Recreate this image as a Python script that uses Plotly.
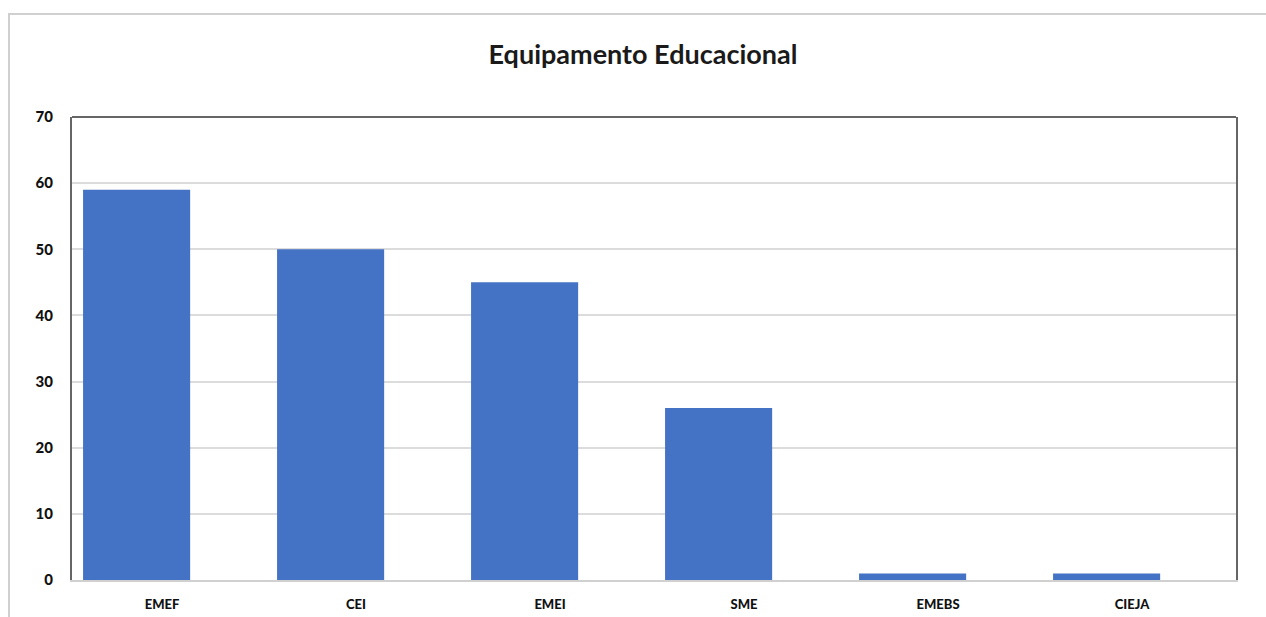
import plotly.graph_objects as go

categories = ["EMEF", "CEI", "EMEI", "SME", "EMEBS", "CIEJA"]
values = [59, 50, 45, 26, 1, 1]
y_ticks = [0, 10, 20, 30, 40, 50, 60, 70]

fig = go.Figure(go.Bar(x=categories, y=values, offset=-0.407, width=0.552,
                       marker=dict(color="#4472C4", line=dict(width=0))))

font_fam = "Lato, 'Open Sans', sans-serif"
fig.update_layout(
    width=1266, height=617,
    margin=dict(l=72, r=30, t=117, b=37, autoexpand=False),
    paper_bgcolor="white", plot_bgcolor="white",
    showlegend=False,
    title=dict(text="<b>Equipamento Educacional</b>", x=643 / 1266, xanchor="center",
               y=1 - 55 / 617, yanchor="middle",
               font=dict(family=font_fam, size=27, color="#1a1a1a")),
    xaxis=dict(showgrid=False, showline=True, linecolor="#d0d0d0", linewidth=2,
               range=[-0.464, 5.536], automargin=False,
               tickfont=dict(family=font_fam, size=13, color="#111", weight=900),
               ticks="", ticklabelstandoff=11),
    yaxis=dict(range=[0, 70], tickvals=y_ticks, showgrid=True, gridcolor="#dcdcdc", gridwidth=1.5,
               zeroline=False, showline=True, mirror=True, linecolor="#666666", linewidth=2,
               automargin=False,
               tickfont=dict(family=font_fam, size=15, color="#111", weight=900),
               ticks="", ticklabelstandoff=14),
    shapes=[
        dict(type="line", xref="paper", yref="paper", x0=0, x1=1, y0=1, y1=1,
             line=dict(color="#666666", width=2)),
        dict(type="rect", xref="paper", yref="paper",
             x0=(9 - 72) / 1164, x1=(1300 - 72) / 1164,
             y0=(580 - 640) / 463, y1=(580 - 14) / 463,
             line=dict(color="#d0d0d0", width=2), layer="below"),
    ],
)

fig.write_html("out.html")
